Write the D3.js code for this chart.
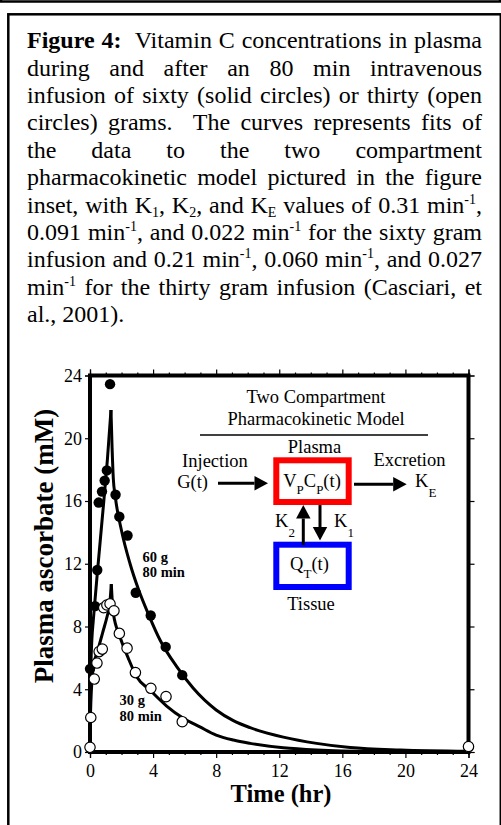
<!DOCTYPE html>
<html>
<head>
<meta charset="utf-8">
<style>
  body { margin: 0; width: 501px; height: 825px; overflow: hidden; background: #fff;
         font-family: "Liberation Serif", "Times New Roman", serif; position: relative; }
  .cap { position: absolute; left: 27px; width: 455px; font-size: 24px; line-height: 27.4px;
         white-space: nowrap; text-align: justify; text-align-last: justify; color: #000; }
  .cap.last { text-align-last: left; }
  .cap sup { font-size: 14px; vertical-align: 9px; line-height: 0; }
  .cap sub { font-size: 14px; vertical-align: -4px; line-height: 0; }
  svg { position: absolute; left: 0; top: 0; }
  svg text { font-family: "Liberation Serif", "Times New Roman", serif; fill: #000; }
</style>
</head>
<body>
<script src="https://cdn.jsdelivr.net/npm/d3@7"></script>
<script>
  // caption lines as printed
  var captionLines = [
    "<b>Figure 4:</b>&nbsp; Vitamin C concentrations in plasma",
    "during and after an 80 min intravenous",
    "infusion of sixty (solid circles) or thirty (open",
    "circles) grams.&nbsp; The curves represents fits of",
    "the data to the two compartment",
    "pharmacokinetic model pictured in the figure",
    "inset, with K<sub>1</sub>, K<sub>2</sub>, and K<sub>E</sub> values of 0.31 min<sup>-1</sup>,",
    "0.091 min<sup>-1</sup>, and 0.022 min<sup>-1</sup> for the sixty gram",
    "infusion and 0.21 min<sup>-1</sup>, 0.060 min<sup>-1</sup>, and 0.027",
    "min<sup>-1</sup> for the thirty gram infusion (Casciari, et",
    "al., 2001)."
  ];

  // 60 g infusion (solid circles)
  var sixtyTime = [0, 0.32, 0.46, 0.55, 0.76, 0.93, 1.07, 1.27, 1.62, 1.86, 2.38, 2.90, 3.85, 4.80, 5.85, 24];
  var sixtyConc = [5.3, 9.3, 11.6, 15.9, 16.6, 17.3, 17.95, 23.45, 16.4, 15.0, 13.8, 10.15, 8.7, 6.7, 4.9, 0.3];

  // 30 g infusion (open circles)
  var thirtyTime = [0, 0.05, 0.27, 0.44, 0.58, 0.78, 0.87, 1.07, 1.27, 1.52, 1.86, 2.35, 2.88, 3.86, 4.82, 5.85, 24];
  var thirtyConc = [0.3, 2.2, 4.65, 5.67, 6.4, 6.56, 9.2, 9.37, 9.45, 9.0, 7.56, 6.62, 5.06, 4.06, 3.53, 1.93, 0.35];

  // model fit curves (rise during infusion, then decay)
  var fit60RiseTime = [0, 0.02, 0.06, 0.12, 0.21, 0.5, 0.84, 1.1, 1.33];
  var fit60RiseConc = [0, 3.2, 5.6, 7.2, 8.4, 11.8, 15.6, 18.6, 21.8];
  var fit60FallTime = [1.33, 1.4, 1.48, 1.6, 2.0, 2.54, 3.06, 3.76, 4.44, 5.5, 6.55, 8.0, 9.09, 10.15, 12.26, 14.37, 16.5, 19.7, 24];
  var fit60FallConc = [21.8, 19.4, 17.4, 16.3, 14.1, 12.0, 10.4, 8.65, 7.14, 5.44, 4.06, 2.68, 2.0, 1.55, 0.95, 0.55, 0.28, 0.12, 0.04];
  var fit30RiseTime = [0, 0.02, 0.06, 0.12, 0.21, 0.5, 0.8, 1.1, 1.25, 1.35];
  var fit30RiseConc = [0, 1.8, 3.3, 4.5, 5.4, 6.5, 7.6, 8.7, 9.4, 10.7];
  var fit30FallTime = [1.35, 1.42, 1.48, 1.9, 2.43, 2.96, 3.8, 4.86, 5.92, 6.97, 8.0, 9.09, 10.15, 12.26, 14.37, 18, 24];
  var fit30FallConc = [10.7, 9.5, 8.84, 7.35, 5.97, 4.8, 3.95, 2.93, 2.15, 1.6, 1.08, 0.76, 0.55, 0.27, 0.13, 0.04, 0.01];

  var majorTicks = [0, 4, 8, 12, 16, 20, 24];
  var minorTicks = d3.range(0, 25).filter(function (d) { return d % 4 != 0; });

  var W = 501, H = 825;

  d3.select("body").selectAll("div.cap")
    .data(captionLines)
    .enter().append("div")
    .attr("class", function (d, i) { return i == captionLines.length - 1 ? "cap last" : "cap"; })
    .style("top", function (d, i) { return (27.2 + i * 27.4) + "px"; })
    .html(function (d) { return d; });

  var svg = d3.select("body").append("svg")
    .attr("width", W)
    .attr("height", H);

  // boxes round the page
  svg.append("rect").attr("x", 1).attr("y", -20).attr("width", 499).attr("height", 21.5)
    .attr("fill", "none").attr("stroke", "#000").attr("stroke-width", 2.5);
  svg.append("rect").attr("x", 8.3).attr("y", 14.3).attr("width", 492.5).attr("height", 850)
    .attr("fill", "none").attr("stroke", "#000").attr("stroke-width", 2.5);

  var x = d3.scaleLinear().domain([0, 24]).range([90, 468.5]);
  var y = d3.scaleLinear().domain([0, 24]).range([752, 375.5]);

  function styleAxis(g) {
    g.selectAll("path, line").attr("stroke", "#000").attr("stroke-width", 1.2);
    g.selectAll("text").attr("font-family", "Liberation Serif").attr("font-size", 18).attr("fill", "#000");
  }

  // majors carry the labels, minors and the mirrored sides are bare ticks
  svg.append("g").attr("transform", "translate(0," + y(0) + ")")
    .call(d3.axisBottom(x).tickValues(majorTicks).tickSize(6).tickPadding(6).tickFormat(d3.format("d")))
    .call(styleAxis);
  svg.append("g").attr("transform", "translate(0," + y(0) + ")")
    .call(d3.axisBottom(x).tickValues(minorTicks).tickSize(3).tickFormat(""))
    .call(styleAxis);
  svg.append("g").attr("transform", "translate(0," + y(24) + ")")
    .call(d3.axisTop(x).tickValues(majorTicks).tickSize(6).tickFormat(""))
    .call(styleAxis);
  svg.append("g").attr("transform", "translate(0," + y(24) + ")")
    .call(d3.axisTop(x).tickValues(minorTicks).tickSize(3).tickFormat(""))
    .call(styleAxis);
  svg.append("g").attr("transform", "translate(" + x(0) + ",0)")
    .call(d3.axisLeft(y).tickValues(majorTicks).tickSize(5).tickPadding(3).tickFormat(d3.format("d")))
    .call(styleAxis);
  svg.append("g").attr("transform", "translate(" + x(24) + ",0)")
    .call(d3.axisRight(y).tickValues(majorTicks).tickSize(6).tickFormat(""))
    .call(styleAxis);
  svg.selectAll("g.tick text").filter(function () { return this.textContent == ""; }).remove();

  // heavy plot frame
  svg.append("rect")
    .attr("x", x(0)).attr("y", y(24))
    .attr("width", x(24) - x(0)).attr("height", y(0) - y(24))
    .attr("fill", "none").attr("stroke", "#000").attr("stroke-width", 4);

  // axis titles
  svg.append("text").attr("x", 281).attr("y", 802).attr("text-anchor", "middle")
    .attr("font-size", 24.5).attr("font-weight", "bold").text("Time (hr)");
  svg.append("text").attr("transform", "translate(53,546) rotate(-90)").attr("text-anchor", "middle")
    .attr("font-size", 27).attr("font-weight", "bold").text("Plasma ascorbate (mM)");

  // fit curves
  var line = d3.line()
    .x(function (d) { return x(d[0]); })
    .y(function (d) { return y(d[1]); })
    .curve(d3.curveMonotoneX);

  var fits = [
    d3.zip(fit60RiseTime, fit60RiseConc),
    d3.zip(fit60FallTime, fit60FallConc),
    d3.zip(fit30RiseTime, fit30RiseConc),
    d3.zip(fit30FallTime, fit30FallConc)
  ];
  svg.selectAll("path.fit").data(fits).enter().append("path")
    .attr("class", "fit")
    .attr("d", line)
    .attr("fill", "none").attr("stroke", "#000").attr("stroke-width", 3)
    .attr("stroke-linejoin", "round");

  // data points
  svg.selectAll("circle.sixty").data(d3.zip(sixtyTime, sixtyConc)).enter().append("circle")
    .attr("class", "sixty")
    .attr("cx", function (d) { return x(d[0]); })
    .attr("cy", function (d) { return y(d[1]); })
    .attr("r", 5.2).attr("fill", "#000");
  svg.selectAll("circle.thirty").data(d3.zip(thirtyTime, thirtyConc)).enter().append("circle")
    .attr("class", "thirty")
    .attr("cx", function (d) { return x(d[0]); })
    .attr("cy", function (d) { return y(d[1]); })
    .attr("r", 5.2).attr("fill", "#fff").attr("stroke", "#000").attr("stroke-width", 1.2);

  // dose labels
  function doseLabel(px, py, dose) {
    var t = svg.append("text").attr("x", px).attr("y", py)
      .attr("font-size", 14.5).attr("font-weight", "bold");
    t.append("tspan").attr("x", px).text(dose);
    t.append("tspan").attr("x", px).attr("dy", 15.5).text("80 min");
  }
  doseLabel(142.5, 561.5, "60 g");
  doseLabel(119.5, 705, "30 g");

  // inset: two compartment model
  var inset = svg.append("g").attr("font-size", 18.5);
  inset.append("text").attr("x", 316).attr("y", 403).attr("text-anchor", "middle").text("Two Compartment");
  inset.append("text").attr("x", 316).attr("y", 425).attr("text-anchor", "middle").text("Pharmacokinetic Model");
  inset.append("line").attr("x1", 200).attr("x2", 428).attr("y1", 435).attr("y2", 435)
    .attr("stroke", "#000").attr("stroke-width", 1.3);
  inset.append("text").attr("x", 314.5).attr("y", 452.5).attr("text-anchor", "middle").text("Plasma");
  inset.append("text").attr("x", 215).attr("y", 466.5).attr("text-anchor", "middle").text("Injection");
  inset.append("text").attr("x", 208).attr("y", 487.5).attr("text-anchor", "end").text("G(t)");
  inset.append("text").attr("x", 409.5).attr("y", 466).attr("text-anchor", "middle").text("Excretion");
  inset.append("text").attr("x", 311).attr("y", 610).attr("text-anchor", "middle").text("Tissue");

  inset.append("rect").attr("x", 276.3).attr("y", 460.3).attr("width", 72.4).attr("height", 41.7)
    .attr("fill", "none").attr("stroke", "#ff0000").attr("stroke-width", 6);
  inset.append("rect").attr("x", 276.3).attr("y", 544.7).attr("width", 72.4).attr("height", 42.3)
    .attr("fill", "none").attr("stroke", "#0000ff").attr("stroke-width", 6);

  // text with lowered subscripts; the next plain part climbs back to the baseline
  function subText(px, py, parts, anchor) {
    var t = inset.append("text").attr("x", px).attr("y", py).attr("text-anchor", anchor || "start");
    var shift = 0;
    parts.forEach(function (p) {
      if (p.sub) {
        t.append("tspan").attr("dy", p.drop).attr("font-size", 13).text(p.sub);
        shift = p.drop;
      } else {
        t.append("tspan").attr("dy", -shift).text(p.txt);
        shift = 0;
      }
    });
  }
  subText(312, 486.7, [{txt: "V"}, {sub: "P", drop: 7}, {txt: "C"}, {sub: "P", drop: 7}, {txt: "(t)"}], "middle");
  subText(309.5, 570, [{txt: "Q"}, {sub: "T", drop: 8}, {txt: "(t)"}], "middle");
  subText(415, 487, [{txt: "K"}, {sub: "E", drop: 10}]);
  subText(275, 527.3, [{txt: "K"}, {sub: "2", drop: 10}]);
  subText(334, 527.3, [{txt: "K"}, {sub: "1", drop: 10}]);

  function arrow(x1, y1, x2, y2) {
    var dx = x2 - x1, dy = y2 - y1, len = Math.sqrt(dx * dx + dy * dy);
    var ux = dx / len, uy = dy / len, hl = 13.5, hw = 7.2;
    var bx = x2 - ux * hl, by = y2 - uy * hl;
    inset.append("line").attr("x1", x1).attr("y1", y1).attr("x2", bx).attr("y2", by)
      .attr("stroke", "#000").attr("stroke-width", 3);
    inset.append("path")
      .attr("d", "M" + x2 + "," + y2 + "L" + (bx - uy * hw) + "," + (by + ux * hw) +
        "L" + (bx + uy * hw) + "," + (by - ux * hw) + "Z")
      .attr("fill", "#000");
  }
  arrow(218, 483.3, 268, 483.3);
  arrow(354, 484.3, 406.7, 484.3);
  arrow(303.3, 545, 303.3, 505);
  arrow(320, 505, 320, 540.5);
</script>
</body>
</html>
